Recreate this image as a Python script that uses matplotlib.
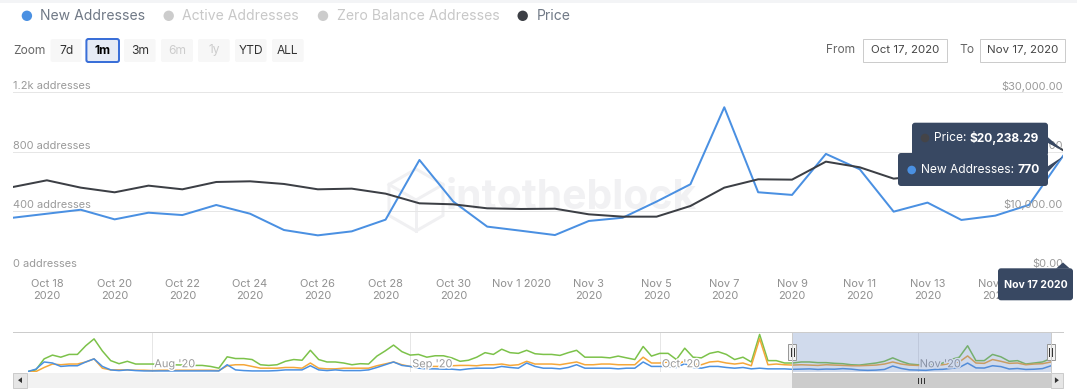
import matplotlib

matplotlib.use("Agg")
import matplotlib.pyplot as plt  # noqa: E402
import matplotlib.patches as mpatches  # noqa: E402
import matplotlib.patheffects as pe  # noqa: E402
import matplotlib.transforms as mtransforms  # noqa: E402
import numpy as np  # noqa: E402
import pandas as pd  # noqa: E402

plt.rcParams["font.family"] = ["Inter", "DejaVu Sans"]

W, H = 1077, 390
PX = 0.72  # 1 px in pt at dpi=100

# ---- 主图数据：2020-10-17 ~ 2020-11-17 日频 ----
dates = pd.date_range("2020-10-17", "2020-11-17", freq="D")
new_addresses = [353, 380, 407, 342, 387, 371, 439, 380, 270, 234, 261, 340, 743, 462, 293,
                 265, 236, 331, 353, 462, 579, 1099, 525, 507, 784, 680, 394, 455, 338, 367, 440, 770]
price = [14016, 15142, 13904, 13116, 14241, 13622, 14860, 14973, 14523, 13622, 13735, 12890, 11258,
         11089, 10414, 10301, 10350, 9400, 9006, 9006, 10808, 13904, 15311, 15255, 18294, 17337,
         15424, 16000, 16700, 17600, 23600, 20238.29]

tick_days = list(range(1, 31, 2))
x_labels = ["Oct 18\n2020", "Oct 20\n2020", "Oct 22\n2020", "Oct 24\n2020", "Oct 26\n2020",
            "Oct 28\n2020", "Oct 30\n2020", "Nov 1 2020", "Nov 3\n2020", "Nov 5\n2020",
            "Nov 7\n2020", "Nov 9\n2020", "Nov 11\n2020", "Nov 13\n2020", "Nov 15\n2020"]
left_ticks = [0, 400, 800, 1200]
left_labels = ["0 addresses", "400 addresses", "800 addresses", "1.2k addresses"]
right_ticks = [0, 10000, 20000, 30000]
right_labels = ["$0.00", "$10,000.00", "$20,000.00", "$30,000.00"]

# ---- 导航条数据：2020-07-17 ~ 2020-11-17 ----
nav_dates = pd.date_range("2020-07-17", "2020-11-17", freq="D")
nav_active = [82, 287, 1600, 2050, 1800, 2130, 2130, 3160, 3980, 2540, 1390, 1025, 1310, 985, 985,
              985, 940, 900, 880, 860, 820, 820, 700, 490, 1845, 1640, 1640, 1520, 900, 820, 900,
              1310, 1520, 1435, 2620, 1520, 1230, 1230, 1107, 900, 1025, 985, 1930, 2550, 3240,
              2460, 2050, 2130, 1800, 1970, 1970, 1720, 1310, 1435, 1800, 2340, 2130, 2750, 2340,
              2255, 2620, 2210,
              2130, 2130, 2010, 2340, 2620, 1800, 1800, 1800, 1720, 1930, 1720, 1520, 3075, 1930,
              2255, 2255, 1520, 2870, 1800, 1720, 2255, 2460, 2130, 1520, 1800, 1230, 4510, 1390,
              1390, 1107, 1107, 1230, 1230, 1150, 1150, 1066, 1025, 900, 860, 985, 1107, 1310,
              1720, 1310, 985, 900, 900, 900, 1107, 1520, 1800, 3160, 1390, 1390, 2130, 1845,
              1310, 1390, 985, 1107, 1230, 1640]
nav_zero = [20, 82, 575, 985, 900, 985, 985, 1230, 1600, 490, 287, 287, 287, 246, 246, 205, 246,
            246, 246, 246, 246, 246, 246, 205, 780, 900, 900, 700, 490, 490, 490, 575, 575, 490,
            1107, 490, 410, 410, 490, 490, 490, 490, 780, 1000, 1230, 900, 700, 615, 700, 700, 700,
            780, 820, 820, 780, 900, 900, 985, 820, 900, 1310, 985,
            985, 985, 900, 1066, 1230, 900, 900, 985, 985, 900, 900, 900, 1800, 1107, 1107, 1230,
            985, 1310, 985, 900, 1230, 1310, 1107, 985, 1107, 780, 4000, 900, 985, 900,
            860, 900, 860, 820, 900, 860, 820, 780, 780, 820, 860, 985, 1230, 985, 860, 820, 820,
            820, 900, 1066, 1230, 1950, 1107, 1066, 1520, 1310, 1066, 1107, 900, 985, 1025, 1230]
nav_new_before = [82, 370, 1230, 1107, 700, 780, 780, 1230, 1600, 700, 287, 205, 287, 205, 164,
                  164, 164, 164, 164, 164, 164, 164, 164, 164, 900, 287, 205, 164, 164, 164, 205,
                  287, 287, 287, 780, 287, 205, 287, 205, 205, 205, 287, 575, 900, 1230, 820, 700,
                  490, 410, 410, 370, 370, 287, 410, 490, 490, 490, 700, 575, 490, 1107, 700,
                  490, 490, 410, 575, 900, 490, 490, 490, 490, 410, 490, 490, 1230, 700, 700, 700,
                  575, 1025, 575, 490, 700, 700, 575, 490, 575, 410, 490, 410, 410, 410]
nav_new = nav_new_before + new_addresses
nav_month_days = [15, 46, 76, 107]
nav_month_labels = ["Aug '20", "Sep '20", "Oct '20", "Nov '20"]

legend_items = ["New Addresses", "Active Addresses", "Zero Balance Addresses", "Price"]
zoom_buttons = ["7d", "1m", "3m", "6m", "1y", "YTD", "ALL"]

# ---- 样式 ----
BLUE = "#4a90e2"
DARK = "#3c3f45"
GREEN = "#7cc24a"
ORANGE = "#f5a73a"
TT = "#384862"
AXIS_TXT = "#9a9a9a"
GRID = "#e6e6e6"


def frame(x0, y0, x1, y1):
    """像素框（左上原点）→ figure 坐标 rect。"""
    return [x0 / W, 1 - y1 / H, (x1 - x0) / W, (y1 - y0) / H]


fig = plt.figure(figsize=(W / 100, H / 100), dpi=100)
bg = fig.add_axes([0, 0, 1, 1], zorder=0)
bg.set_xlim(0, W)
bg.set_ylim(H, 0)
bg.axis("off")

bg.add_patch(mpatches.Rectangle((0, 0), W, 2.5, fc="#f3f4f6", ec="none"))

# --- 图例行 ---
leg_x = [26.9, 168.7, 323.0, 522.7]
leg_dot = [BLUE, "#cccccc", "#cccccc", DARK]
leg_txt = ["#707986", "#c8c8c8", "#c8c8c8", "#707986"]
for x, lab, dc, tc in zip(leg_x, legend_items, leg_dot, leg_txt):
    bg.add_patch(mpatches.Circle((x, 15.8), 5.2, fc=dc, ec="none"))
    bg.text(x + 13.6, 15.8, lab, ha="left", va="center", fontsize=14 * PX, color=tc)

# --- 缩放按钮 ---
bg.text(13, 50.5, "Zoom", ha="left", va="center", fontsize=12 * PX, color="#666666")
btn_x = [(50.6, 81.6), (86.4, 119), (124, 155.6), (161, 193), (198, 229.7), (235, 266.5), (272, 303.7)]
for (x0, x1), lab in zip(btn_x, zoom_buttons):
    sel = lab == "1m"
    dis = lab in ("6m", "1y")
    bg.add_patch(mpatches.FancyBboxPatch(
        (x0, 39), x1 - x0, 23, boxstyle="round,pad=0,rounding_size=2",
        fc="#e6ebf5" if sel else "#f7f7f7",
        ec="#3a6fd8" if sel else "none", lw=2 * PX))
    bg.text((x0 + x1) / 2, 50.5, lab, ha="center", va="center", fontsize=12 * PX,
            color="#cccccc" if dis else ("#000000" if sel else "#333333"),
            fontweight="bold" if sel else "normal")

# --- 日期输入框 ---
bg.text(826, 50.3, "From", ha="left", va="center", fontsize=12 * PX, color="#666666")
bg.text(959.5, 50.3, "To", ha="left", va="center", fontsize=12 * PX, color="#666666")
for (x0, x1), lab in zip([(863, 947), (980, 1064.6)], ["Oct 17, 2020", "Nov 17, 2020"]):
    bg.add_patch(mpatches.Rectangle((x0, 38.7), x1 - x0, 22.9, fc="white", ec="#cccccc", lw=PX))
    bg.text((x0 + x1) / 2, 50.3, lab, ha="center", va="center", fontsize=11.5 * PX, color="#444444")

# --- 水印 ---
hx, hy, ry, rx = 416, 200, 31, 27
hexv = [(hx, hy - ry), (hx + rx, hy - ry / 2), (hx + rx, hy + ry / 2), (hx, hy + ry),
        (hx - rx, hy + ry / 2), (hx - rx, hy - ry / 2)]
bg.add_patch(mpatches.Polygon(hexv, closed=True, fill=False, ec="#f0f0f2", lw=3 * PX))
for ex, ey in [(hx - rx, hy - ry / 2), (hx + rx, hy - ry / 2), (hx, hy + ry)]:
    bg.plot([hx, ex], [hy, ey], color="#f0f0f2", lw=3 * PX)
bg.text(446, 198, "intotheblock", ha="left", va="center", fontsize=41 * PX,
        color="#f1f1f3", fontweight="bold")

# --- 主图 ---
days = np.arange(len(dates))
ax = fig.add_axes(frame(13, 92.3, 1063, 270), zorder=2)
ax.patch.set_visible(False)
ax.set_xlim(0, len(dates) - 1)
ax.set_ylim(0, 1200)
ax.set_yticks(left_ticks)
ax.yaxis.grid(True, color=GRID, lw=PX)
ax.tick_params(axis="y", length=0, labelleft=False)
ax.set_xticks(tick_days, x_labels)
ax.tick_params(axis="x", length=0, pad=6.5, labelsize=11 * PX, labelcolor="#909090")
for lbl in ax.get_xticklabels():
    lbl.set_linespacing(1.3)
for s in ax.spines.values():
    s.set_visible(False)
ax.plot(days, new_addresses, color=BLUE, lw=2 * PX, zorder=3, solid_joinstyle="round")

axp = ax.twinx()
axp.set_ylim(0, 30000)
axp.set_yticks([])
for s in axp.spines.values():
    s.set_visible(False)
axp.plot(days, price, color=DARK, lw=2 * PX, zorder=3, solid_joinstyle="round")

ltrans = mtransforms.offset_copy(ax.get_yaxis_transform(), y=6, units="dots")
for v, lab in zip(left_ticks, left_labels):
    ax.text(0, v, lab, transform=ltrans, ha="left", va="center", fontsize=11 * PX, color=AXIS_TXT)
rtrans = mtransforms.offset_copy(axp.get_yaxis_transform(), y=6, units="dots")
for v, lab in zip(right_ticks, right_labels):
    axp.text(1, v, lab, transform=rtrans, ha="right", va="center", fontsize=11 * PX, color=AXIS_TXT)

# --- 导航条 ---
nav = fig.add_axes(frame(27.5, 332, 1050.8, 372.3), zorder=2)
nav.patch.set_visible(False)
nav.axis("off")
nd = np.arange(len(nav_dates))
nav.set_xlim(0, len(nav_dates) - 1)
nav.set_ylim(0, 4800)
for d, lab in zip(nav_month_days, nav_month_labels):
    nav.axvline(d, color=GRID, lw=PX, zorder=1)
    t = mtransforms.offset_copy(nav.get_xaxis_transform(), x=2, units="dots")
    nav.text(d, 0.2, lab, transform=t, ha="left", va="center", fontsize=11 * PX, color="#999999",
             zorder=4, path_effects=[pe.withStroke(linewidth=2, foreground="white")])
nav.plot(nd, nav_active, color=GREEN, lw=1.1, zorder=2)
nav.plot(nd, nav_zero, color=ORANGE, lw=1.1, zorder=2)
nav.plot(nd, nav_new, color=BLUE, lw=1.1, zorder=3)
nav.axvspan(92, 123, color=(102 / 255, 133 / 255, 194 / 255), alpha=0.3, lw=0, zorder=5)

ov = fig.add_axes([0, 0, 1, 1], zorder=6)
ov.set_xlim(0, W)
ov.set_ylim(H, 0)
ov.axis("off")
ov.patch.set_visible(False)

# 导航条轮廓、手柄、滚动条
ov.plot([13, 1063], [332, 332], color="#cccccc", lw=PX)
for x in (792, 1050.8):
    ov.plot([x, x], [332, 372.3], color="#cccccc", lw=PX)
ov.add_patch(mpatches.Rectangle((13, 372.7), 1050, 15.1, fc="#f2f2f2", ec="none"))
ov.add_patch(mpatches.Rectangle((792, 372.7), 258.8, 15.1, fc="#cccccc", ec="none"))
for gx in (918, 921, 924):
    ov.plot([gx, gx], [377.5, 383], color="#333333", lw=PX)
for x0, x1, sgn in [(13, 27, -1), (1050.8, 1063, 1)]:
    ov.add_patch(mpatches.Rectangle((x0, 372.7), x1 - x0, 15.1, fc="#e6e6e6", ec="#cccccc", lw=PX))
    cx = (x0 + x1) / 2
    ov.add_patch(mpatches.Polygon([(cx - 2 * sgn, 377.3), (cx + 2 * sgn, 380.2), (cx - 2 * sgn, 383.1)],
                                  closed=True, fc="#333333", ec="none"))
for x in (792, 1050.8):
    ov.add_patch(mpatches.Rectangle((x - 4, 344), 8, 15.6, fc="#f2f2f2", ec="#999999", lw=PX))
    for ix in (x - 1.5, x + 1.5):
        ov.plot([ix, ix], [347.5, 356], color="#333333", lw=PX)

# --- 悬停提示框 ---
ov.add_patch(mpatches.FancyBboxPatch((912, 122.7), 136, 33, boxstyle="round,pad=0,rounding_size=3",
                                     fc=TT, ec="none"))
ov.add_patch(mpatches.Polygon([(1046, 135.5), (1063, 150.6), (1046, 142)], closed=True, fc=TT, ec="none"))
ov.add_patch(mpatches.FancyBboxPatch((898, 153), 150, 33, boxstyle="round,pad=0,rounding_size=3",
                                     fc=TT, ec="none"))
ov.add_patch(mpatches.Polygon([(1046, 167.5), (1063, 156.4), (1046, 174)], closed=True, fc=TT, ec="none"))
ov.add_patch(mpatches.Circle((925, 138), 4.3, fc="#444448", ec="none"))
t1 = ov.text(934, 138, "Price: ", ha="left", va="center", fontsize=12 * PX, color="white")
ov.annotate("$20,238.29", xy=(1, 0.5), xycoords=t1, ha="left", va="center", fontsize=12 * PX,
            color="white", fontweight="bold")
ov.add_patch(mpatches.Circle((911.7, 170), 4.3, fc=BLUE, ec="none"))
t2 = ov.text(920.7, 170, "New Addresses: ", ha="left", va="center", fontsize=12 * PX, color="white")
ov.annotate("770", xy=(1, 0.5), xycoords=t2, ha="left", va="center", fontsize=12 * PX,
            color="white", fontweight="bold")

ov.add_patch(mpatches.FancyBboxPatch((998, 268.3), 75, 32, boxstyle="round,pad=0,rounding_size=3",
                                     fc=TT, ec="none"))
ov.add_patch(mpatches.Polygon([(1056, 268.6), (1063, 262.5), (1070, 268.6)], closed=True, fc=TT, ec="none"))
ov.text(1036, 284.5, "Nov 17 2020", ha="center", va="center", fontsize=10.5 * PX, color="white",
        fontweight="bold")

fig.savefig("out.png", dpi=100)
